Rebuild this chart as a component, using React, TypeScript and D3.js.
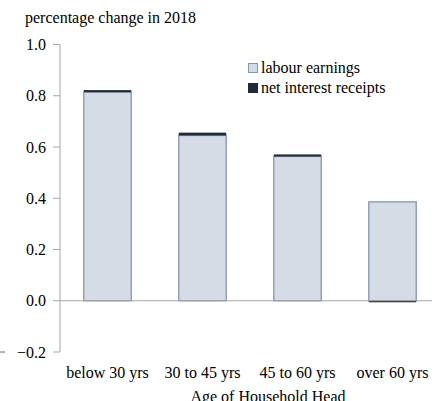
import React from "react";
import * as d3 from "d3";

const categories = ["below 30 yrs", "30 to 45 yrs", "45 to 60 yrs", "over 60 yrs"];
const labourEarnings = [0.814, 0.645, 0.563, 0.386];
const netInterest = [0.008, 0.011, 0.008, -0.006];
const seriesNames = ["labour earnings", "net interest receipts"];
const yTicks = [-0.2, 0.0, 0.2, 0.4, 0.6, 0.8, 1.0];

const W = 445;
const H = 401;
const FILL = ["#d6dce5", "#222a35"];
const STROKE = ["#8497b0", "#222a35"];
const AXIS = "#a6a6a6";
const txt: React.CSSProperties = { fontFamily: "'Liberation Serif', 'Times New Roman', Times, serif", fontSize: "16px" };

export default function App() {
  const x = d3.scaleBand<string>().domain(categories).range([60, 440]).paddingInner(0.49).paddingOuter(0.245);
  const y = d3.scaleLinear().domain([-0.2, 1.0]).range([352, 44.5]);

  const rows = categories.map((c, i) => ({ cat: c, labour: labourEarnings[i], interest: netInterest[i] }));
  const stack = d3.stack<any>().keys(["labour", "interest"]).offset(d3.stackOffsetDiverging);
  const layers = stack(rows);

  return (
    <svg width={W} height={H} style={{ position: "absolute", left: 0, top: 0, background: "#fff" }}>
      <text x={25} y={23} style={txt} fill="#000">percentage change in 2018</text>
      {/* y axis */}
      <line x1={60} x2={60} y1={y(1.0)} y2={y(-0.2)} stroke={AXIS} strokeWidth={1} />
      {yTicks.map((t) => (
        <g key={t}>
          <line x1={53} x2={60} y1={y(t)} y2={y(t)} stroke={AXIS} strokeWidth={1} />
          <text x={46} y={y(t)} dy="0.35em" textAnchor="end" style={txt} fill="#000">
            {d3.format(".1f")(t)}
          </text>
        </g>
      ))}
      <line x1={0} x2={5} y1={y(-0.2)} y2={y(-0.2)} stroke="#666" strokeWidth={1} />
      {/* bars */}
      {layers.map((layer, li) => (
        <g key={li}>
          {layer.map((d, i) => {
            const y0 = y(Math.max(d[0], d[1]));
            const y1 = y(Math.min(d[0], d[1]));
            const h = Math.max(y1 - y0, 1.5);
            return (
              <rect
                key={i}
                x={(x(categories[i]) as number) + 0.5}
                y={y0}
                width={x.bandwidth() - 1}
                height={h}
                fill={FILL[li]}
                stroke={li === 0 ? STROKE[li] : "none"}
                strokeWidth={1.3}
              />
            );
          })}
        </g>
      ))}
      {/* zero line */}
      <line x1={60} x2={432} y1={y(0)} y2={y(0)} stroke={AXIS} strokeWidth={1.2} />
      {/* x labels */}
      {categories.map((c) => (
        <text key={c} x={(x(c) as number) + x.bandwidth() / 2} y={378} textAnchor="middle" style={txt} fill="#000">
          {c}
        </text>
      ))}
      <text x={268} y={402} textAnchor="middle" style={txt} fill="#000">Age of Household Head</text>
      {/* legend */}
      {seriesNames.map((s, i) => (
        <g key={s}>
          <rect x={248.5} y={63.5 + i * 20} width={9} height={9} fill={FILL[i]} stroke={STROKE[i]} strokeWidth={1} />
          <text x={261} y={73 + i * 20} style={txt} fill="#000">{s}</text>
        </g>
      ))}
    </svg>
  );
}
